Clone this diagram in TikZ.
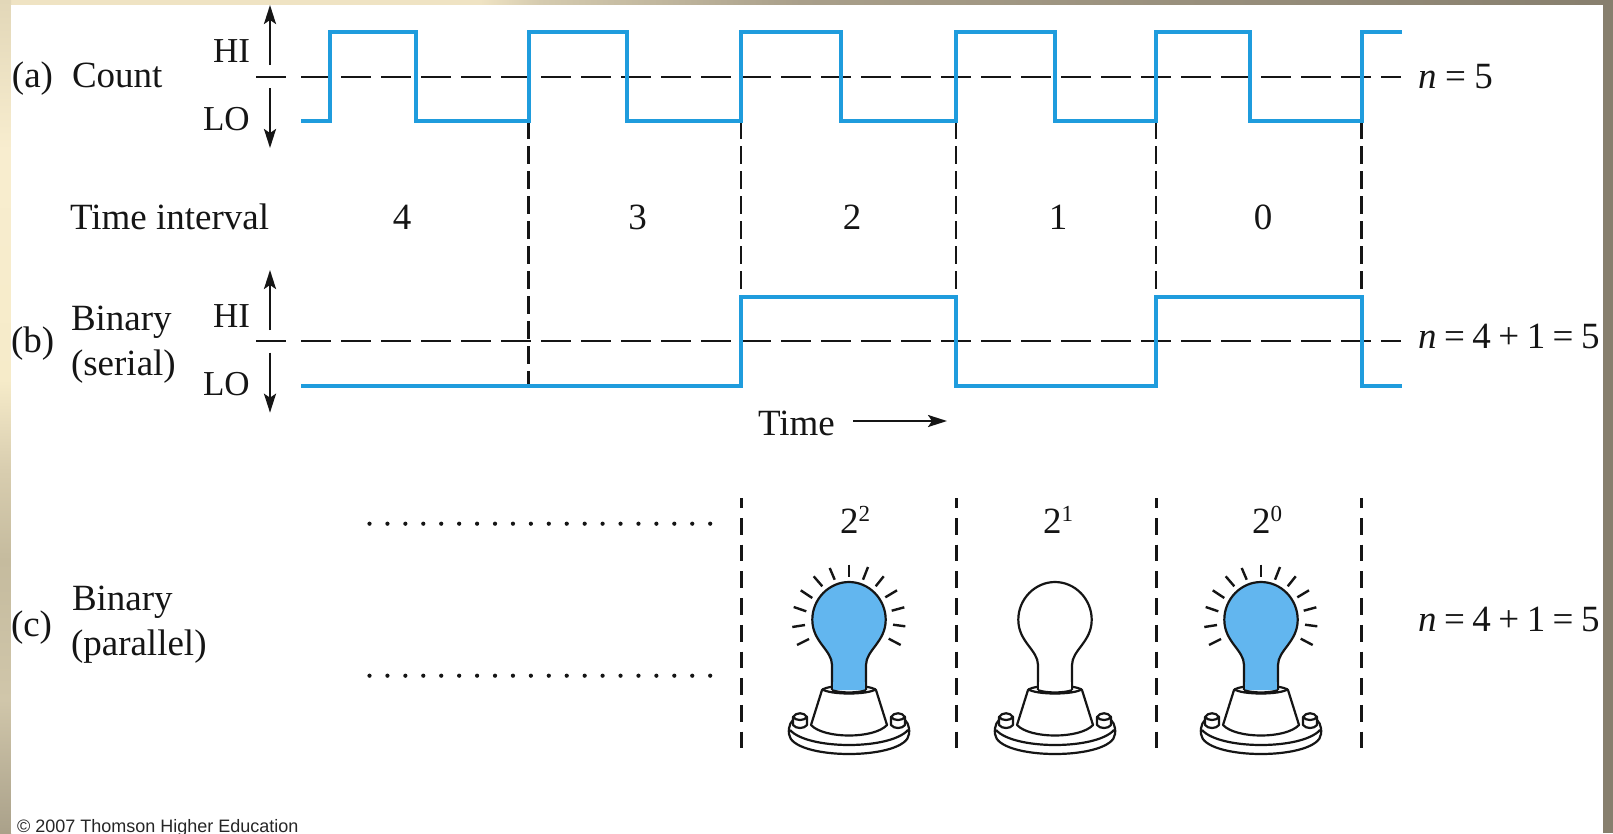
\documentclass[tikz,border=0pt]{standalone}
\usepackage{fontspec}
\setmainfont{Liberation Serif}
\newfontfamily\arialfont{Liberation Sans}
\usetikzlibrary{arrows.meta}
\definecolor{wavecol}{HTML}{1F9CDD}
\definecolor{bulbcol}{HTML}{62B6EF}
\definecolor{inkcol}{HTML}{151515}
\definecolor{bandA}{HTML}{E2D7B8}
\definecolor{bandB}{HTML}{F8EDCF}
\definecolor{bandC}{HTML}{F6EBC9}
\definecolor{bandD}{HTML}{D8CDAF}
\definecolor{bandE}{HTML}{C5BB9E}
\definecolor{bandF}{HTML}{D0C6AA}
\definecolor{bandG}{HTML}{AAA18A}
\definecolor{topA}{HTML}{EFE3C3}
\definecolor{topB}{HTML}{D5CBAF}
\definecolor{topC}{HTML}{A99F8A}
\definecolor{topD}{HTML}{877F6E}
\newcommand{\supnum}[1]{2\raisebox{12pt}{\fontsize{23}{23}\selectfont #1}}
\newcommand{\eqgap}{\hspace{7.5pt}}
\tikzset{
  x=1pt,y=-1pt,
  lbl/.style={inner sep=0pt,outer sep=0pt,anchor=base west,text=inkcol,font=\fontsize{37}{37}\selectfont},
  lvl/.style={lbl,font=\fontsize{35}{35}\selectfont},
  num/.style={lbl,anchor=base},
  wave/.style={draw=wavecol,line width=4pt,line join=miter},
  middash/.style={draw=inkcol,line width=2.2pt,dash pattern=on 30pt off 10pt},
  vdash/.style={draw=inkcol,line width=2.8pt,dash pattern=on 18pt off 7pt},
  bigdash/.style={draw=inkcol,line width=3pt,dash pattern=on 16.7pt off 10pt,dash phase=6.7pt},
  dotrow/.style={draw=inkcol,line width=4.2pt,line cap=round,dash pattern=on 0pt off 17.93pt},
  lvlarrow/.style={draw=inkcol,line width=2.4pt,-{Stealth[length=19pt,width=12pt,inset=4pt]}},
  bulbline/.style={draw=inkcol,line width=2.2pt,line join=round},
  ray/.style={draw=inkcol,line width=2.4pt},
  pics/lampbase/.style={code={
    \fill[white] (-60,146) -- (-60,156) .. controls (-58,166) and (-30,172) .. (0,172) .. controls (30,172) and (58,166) .. (60,156) -- (60,146) -- (38,136) -- (-38,136) -- cycle;
    \draw[bulbline] (-52,135) .. controls (-58,138) and (-61,144) .. (-60,152) .. controls (-59,165) and (-30,172) .. (0,172) .. controls (30,172) and (59,165) .. (60,152) .. controls (61,144) and (58,138) .. (52,135);
    \draw[bulbline] (-59,148) .. controls (-50,158) and (-25,163) .. (0,163) .. controls (25,163) and (50,158) .. (59,148);
    \foreach \s in {-1,1}{
      \draw[bulbline,fill=white] (\s*56,135) -- (\s*56,143) .. controls (\s*53,147) and (\s*45,147) .. (\s*42,143) -- (\s*42,135) .. controls (\s*45,130) and (\s*53,130) .. (\s*56,135) .. controls (\s*53,139) and (\s*45,139) .. (\s*42,135);
    }
    \draw[bulbline,fill=white] (-27,108) -- (-38,143) .. controls (-25,157) and (25,157) .. (38,143) -- (27,108) .. controls (20,102) and (-20,102) .. (-27,108) -- cycle;
    \draw[bulbline] (-27,107) .. controls (-20,113) and (20,113) .. (27,107);
  }},
  pics/lampglass/.style={code={
    \draw[bulbline,fill=#1] (-17,108) -- (-17,83) .. controls (-17,68) and (-36.7,60) .. (-36.7,37.7) .. controls (-36.7,17) and (-20,0) .. (0,0) .. controls (20,0) and (36.7,17) .. (36.7,37.7) .. controls (36.7,60) and (17,68) .. (17,83) -- (17,108);
    \fill[#1] (-16,100) rectangle (16,108);
    \draw[draw=inkcol,line width=2.8pt] (-17,108.5) .. controls (-8,111.5) and (8,111.5) .. (17,108.5);
  }},
  pics/lamprays/.style={code={
    \foreach \a/\b/\c/\d in {0/-17.3/0/-5,-19.3/-14/-14.3/-2.3,-35.3/-5.7/-26.7/4.3,-48.3/8.3/-36.7/16,-55.3/25/-42.7/29.3,-56.7/45/-44/43,-52/63/-40/57,19/-15/14/-2.3,34.7/-5.7/26.7/4.3,48/8.3/36.3/15.3,55.3/25.3/42.7/28.7,56.3/44.3/44/42.7,51.7/63/39.7/56.7}{
      \draw[ray] (\a,\b) -- (\c,\d);
    }
  }},
}
\begin{document}
\begin{tikzpicture}
\useasboundingbox (0,0) rectangle (1613,833);
% frame: shaded slide background
\fill[topA] (0,0) rectangle (480,6);
\fill[left color=topA,right color=topB] (480,0) rectangle (540,6);
\fill[left color=topB,right color=topC] (540,0) rectangle (800,6);
\fill[left color=topC,right color=topD] (800,0) rectangle (1613,6);
\fill[top color=bandA,bottom color=bandB] (0,0) rectangle (11,150);
\fill[top color=bandB,bottom color=bandC] (0,150) rectangle (11,380);
\fill[top color=bandC,bottom color=bandD] (0,380) rectangle (11,470);
\fill[top color=bandD,bottom color=bandE] (0,470) rectangle (11,560);
\fill[top color=bandE,bottom color=bandF] (0,560) rectangle (11,700);
\fill[top color=bandF,bottom color=bandG] (0,700) rectangle (11,833);
\fill[topD] (1603,0) rectangle (1613,833);
\fill[white] (11,5) rectangle (1603,833);

% vertical guides between the waveforms
\draw[vdash] (528.6,121) -- (528.6,385);
\foreach \xx in {741,956,1156,1361.5}{
  \draw[vdash] (\xx,121) -- (\xx,297);
}
% mid-level dashes
\draw[middash] (256,77) -- (286,77);
\draw[middash] (301,77) -- (1401,77);
\draw[middash] (256,341) -- (286,341);
\draw[middash] (301,341) -- (1401,341);
% waveforms
\draw[wave] (301,121) -| (330,32) -| (416,121) -| (528.6,32) -| (627,121) -| (741,32) -| (841,121) -| (956,32) -| (1055,121) -| (1156,32) -| (1250,121) -| (1361.5,32) -- (1402,32);
\draw[wave] (301,385.7) -| (741,296.7) -| (956,385.7) -| (1156,296.7) -| (1361.5,385.7) -- (1402,385.7);
% level arrows
\draw[lvlarrow] (270,65) -- (270,5);
\draw[lvlarrow] (270,88) -- (270,148);
\draw[lvlarrow] (270,330) -- (270,270);
\draw[lvlarrow] (270,352.7) -- (270,412.7);
% labels
\node[lbl] (lblA) at (12,87) {(a)};
\node[lbl] (lblCount) at (72,87) {Count};
\node[lvl] (hiA) at (213,62) {HI};
\node[lvl] (loA) at (203,130) {LO};
\node[lbl] (nA) at (1418,88) {\textit{n}\hspace{8.5pt}=\hspace{8.5pt}5};
\node[lbl] (lblTime) at (70,229) {Time interval};
\node[num] (t4) at (402,229) {4};
\node[num] (t3) at (637.5,229) {3};
\node[num] (t2) at (852,229) {2};
\node[num] (t1) at (1058,229) {1};
\node[num] (t0) at (1263,229) {0};
\node[lbl] (lblB) at (11,352) {(b)};
\node[lbl] (binB) at (71,330) {Binary};
\node[lbl] (serB) at (71,375) {(serial)};
\node[lvl] (hiB) at (213,327) {HI};
\node[lvl] (loB) at (203,395) {LO};
\node[lbl] (nB) at (1418,348) {\textit{n}\eqgap=\eqgap 4\eqgap+\eqgap 1\eqgap=\eqgap 5};
\node[lbl] (timeT) at (758,435) {Time};
\coordinate (timeA) at (853,421);
\coordinate (timeB) at (947,421);
\draw[lvlarrow,line width=2.2pt] (timeA) -- (timeB);
% section c
\draw[dotrow] (369.5,523.7) -- (712,523.7);
\draw[dotrow] (369.5,675.7) -- (712,675.7);
\foreach \xx in {741.5,956,1156,1361.5}{
  \draw[bigdash] (\xx,498) -- (\xx,750);
}
\node[lbl] (lblC) at (11,636) {(c)};
\node[lbl] (binC) at (72,610) {Binary};
\node[lbl] (parC) at (71,655) {(parallel)};
\node[num] (p2) at (855,533) {\supnum{2}};
\node[num] (p1) at (1058,533) {\supnum{1}};
\node[num] (p0) at (1267,533) {\supnum{0}};
\node[lbl] (nC) at (1418,631) {\textit{n}\eqgap=\eqgap 4\eqgap+\eqgap 1\eqgap=\eqgap 5};
% lamps
\pic at (849,582) {lamprays};
\pic at (849,582) {lampbase};
\pic at (849,582) {lampglass=bulbcol};
\pic at (1055,582) {lampbase};
\pic at (1055,582) {lampglass=white};
\pic at (1261,582) {lamprays};
\pic at (1261,582) {lampbase};
\pic at (1261,582) {lampglass=bulbcol};
% credit
\node[lbl,font=\arialfont\fontsize{18}{18}\selectfont,text=black!85] (credit) at (17,832) {© 2007 Thomson Higher Education};
\end{tikzpicture}
\end{document}
